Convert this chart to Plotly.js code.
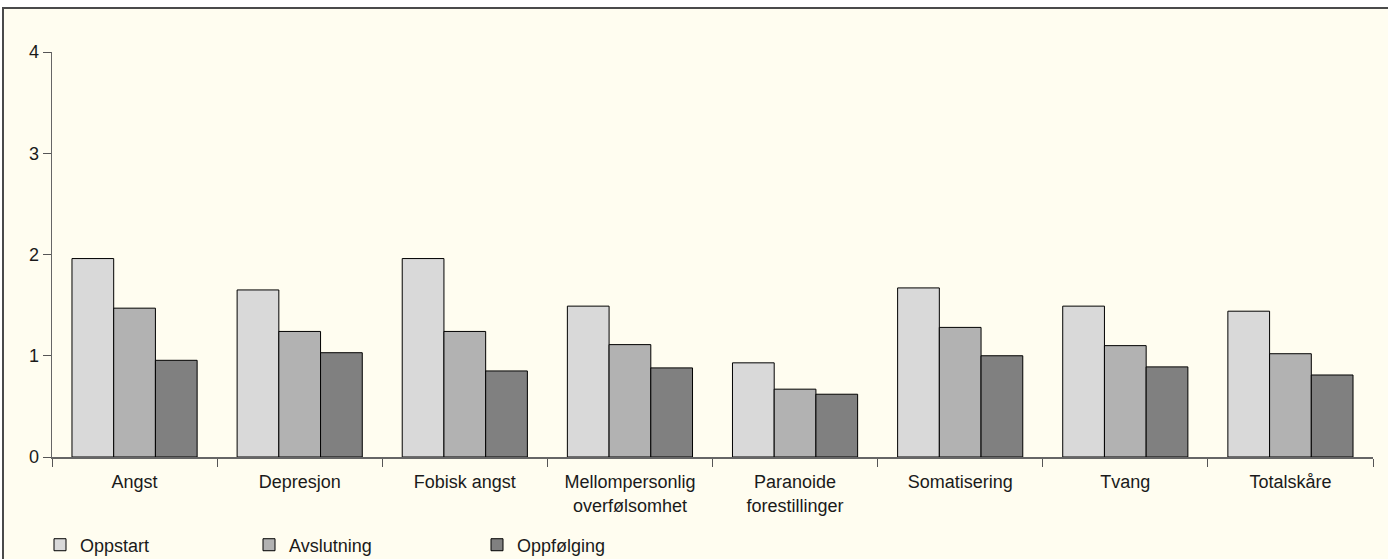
<!DOCTYPE html>
<html>
<head>
<meta charset="utf-8">
<script src="https://cdn.plot.ly/plotly-3.0.1.min.js"></script>
<style>
  html, body { margin: 0; padding: 0; background: #ffffff; width: 1388px; height: 559px; overflow: hidden; }
  #frame { position: absolute; left: 2px; top: 7px; width: 1400px; height: 600px;
           border: 2px solid #4a4a4a; background: #FFFDF0; box-sizing: border-box; }
  #chart { position: absolute; left: 0; top: 0; width: 1388px; height: 559px; }
</style>
</head>
<body>
<div id="frame"></div>
<div id="chart"></div>
<script>
const categories = ['Angst', 'Depresjon', 'Fobisk angst', 'Mellompersonlig<br>overfølsomhet',
  'Paranoide<br>forestillinger', 'Somatisering', 'Tvang', 'Totalskåre'];
const seriesNames = ['Oppstart', 'Avslutning', 'Oppfølging'];
const oppstart   = [1.96, 1.65, 1.96, 1.49, 0.93, 1.67, 1.49, 1.44];
const avslutning = [1.47, 1.24, 1.24, 1.11, 0.67, 1.28, 1.10, 1.02];
const oppfolging = [0.955, 1.03, 0.85, 0.88, 0.62, 1.00, 0.89, 0.81];
const yTicks = [0, 1, 2, 3, 4];

const colors = ['#D9D9D9', '#B2B2B2', '#808080'];
const values = [oppstart, avslutning, oppfolging];
const legendIds = ['legend', 'legend2', 'legend3'];

const traces = values.map((v, i) => ({
  type: 'bar',
  x: categories,
  y: v,
  name: seriesNames[i],
  legend: legendIds[i],
  marker: { color: colors[i], line: { color: '#000000', width: 1 } },
  hoverinfo: 'x+y+name'
}));

const font = { family: 'Liberation Sans, Arial, sans-serif', size: 18, color: '#1a1a1a' };
const legendBase = {
  orientation: 'h', xanchor: 'left', yanchor: 'middle',
  xref: 'container', yref: 'container', y: 0.025,
  bgcolor: 'rgba(0,0,0,0)', borderwidth: 0, font: font, itemwidth: 30
};

const layout = {
  width: 1388, height: 559,
  margin: { l: 52, r: 15, t: 51.5, b: 102, pad: 0, autoexpand: false },
  paper_bgcolor: 'rgba(0,0,0,0)',
  plot_bgcolor: 'rgba(0,0,0,0)',
  font: font,
  barmode: 'group',
  bargap: 0.242,
  bargroupgap: 0,
  showlegend: true,
  legend:  Object.assign({}, legendBase, { x: 40 / 1388 }),
  legend2: Object.assign({}, legendBase, { x: 249 / 1388 }),
  legend3: Object.assign({}, legendBase, { x: 477 / 1388 }),
  xaxis: {
    type: 'category',
    tickson: 'boundaries',
    ticks: 'outside', ticklen: 8, tickwidth: 1, tickcolor: '#555555',
    ticklabelstandoff: 8,
    showline: true, linecolor: '#666666', linewidth: 1.5,
    showgrid: false, zeroline: false, automargin: false,
    tickfont: font, fixedrange: true
  },
  yaxis: {
    range: [0, 4],
    tickvals: yTicks,
    ticktext: yTicks.map(String),
    ticks: 'outside', ticklen: 8, tickwidth: 1, tickcolor: '#555555',
    showline: true, linecolor: '#666666', linewidth: 1.5,
    showgrid: false, zeroline: false, automargin: false,
    tickfont: font, fixedrange: true
  }
};

Plotly.newPlot('chart', traces, layout, { displayModeBar: false, staticPlot: true });
</script>
</body>
</html>
